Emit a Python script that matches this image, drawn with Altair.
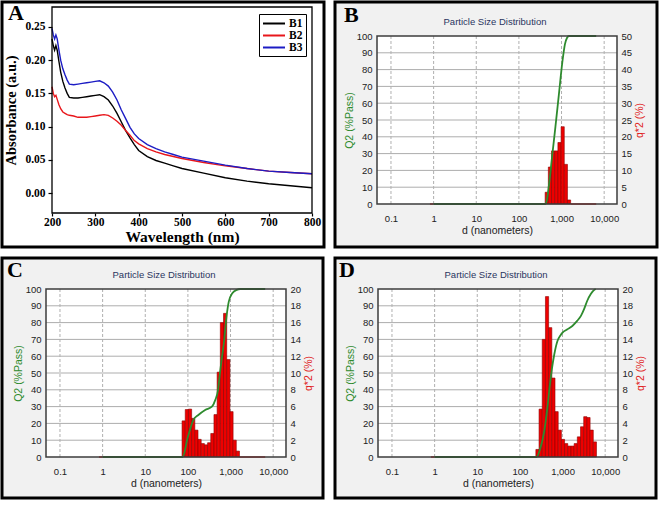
import altair as alt
import pandas as pd

# ---------------- Panel A: UV-vis absorbance ----------------
wavelength = [200, 203, 206, 209, 212, 216, 220, 225, 230, 235, 240, 250, 260, 270, 280, 290,
              300, 310, 320, 330, 340, 350, 360, 370, 380, 390, 400, 420, 440, 460, 480, 500,
              550, 600, 650, 700, 750, 800]
abs_b1 = [0.232, 0.222, 0.215, 0.222, 0.215, 0.198, 0.182, 0.168, 0.158, 0.150, 0.144, 0.143,
          0.143, 0.144, 0.145, 0.146, 0.147, 0.148, 0.145, 0.140, 0.131, 0.120, 0.107, 0.094,
          0.083, 0.073, 0.064, 0.055, 0.049, 0.045, 0.041, 0.037, 0.030, 0.023, 0.018, 0.014,
          0.011, 0.008]
abs_b2 = [0.160, 0.150, 0.145, 0.147, 0.141, 0.133, 0.127, 0.122, 0.120, 0.118, 0.117, 0.116,
          0.114, 0.114, 0.114, 0.115, 0.116, 0.117, 0.118, 0.117, 0.113, 0.108, 0.102, 0.094,
          0.087, 0.079, 0.074, 0.067, 0.062, 0.058, 0.055, 0.052, 0.046, 0.041, 0.037, 0.033,
          0.031, 0.029]
abs_b3 = [0.248, 0.238, 0.232, 0.238, 0.232, 0.215, 0.200, 0.187, 0.178, 0.170, 0.164, 0.163,
          0.164, 0.165, 0.166, 0.167, 0.168, 0.169, 0.166, 0.161, 0.152, 0.140, 0.125, 0.112,
          0.099, 0.089, 0.082, 0.073, 0.067, 0.062, 0.058, 0.054, 0.048, 0.042, 0.037, 0.033,
          0.031, 0.029]
series_names = ["B1", "B2", "B3"]
series_colors = ["#000000", "#e8161b", "#1c1cc4"]
a_xticks = [200, 300, 400, 500, 600, 700, 800]
a_yticks = [0.0, 0.05, 0.10, 0.15, 0.20, 0.25]
a_xdom = [200, 800]
a_ydom = [-0.03, 0.28]

# ---------------- Panels B-D: particle size distribution ----------------
psd_xdom = [0.047, 20000]
psd_xticks = [0.1, 1, 10, 100, 1000, 10000]
q2_dom = [0, 100]
q2_grid = [10, 20, 30, 40, 50, 60, 70, 80, 90]
q2_ticks = [0, 10, 20, 30, 40, 50, 60, 70, 80, 90, 100]

b_edges = [413, 491, 583, 692, 822, 977, 1160, 1378, 1637]
b_q = [3.5, 11.0, 15.8, 15.8, 18.3, 23.0, 11.8, 1.2]
b_cum_d = [1, 420, 450, 500, 600, 720, 865, 1040, 1200, 1350, 1500, 6500]
b_cum_v = [0, 0, 2, 10, 28, 46, 65, 84, 95, 99, 100, 100]
b_zero_lo = [0.82, 1637]
b_zero_hi = [1.0, 6500]
b_qticks = [0, 5, 10, 15, 20, 25, 30, 35, 40, 45, 50]

c_edges = [73, 86.7, 103, 122.4, 145.4, 172.7, 205.2, 243.8, 289.6, 344, 408.7, 485.5,
           576.8, 685.2, 814, 967, 1149, 1365, 1621]
c_q = [4.3, 5.65, 5.7, 4.6, 3.2, 2.1, 1.6, 1.45, 1.7, 2.8, 5.05, 10.1, 16.0, 17.1, 11.6,
       5.4, 2.0, 0.7]
c_cum_d = [1, 75, 100, 134, 176, 254, 366, 440, 510, 565, 650, 700, 800, 910, 1100, 1400,
           1700, 6500]
c_cum_v = [0, 0, 12, 22, 25, 28, 30, 34, 40, 50, 62, 68, 83, 92.5, 97.5, 99.5, 100, 100]
c_zero_lo = [0.82, 1621]
c_zero_hi = [1.0, 6500]

d_edges = [237, 281.6, 334.5, 397.4, 472.1, 560.8, 666.2, 791.5, 940.3, 1117, 1327, 1577,
           1873, 2225, 2643, 3140, 3731, 4432, 5265, 6255]
d_q = [0.9, 5.7, 14.0, 19.1, 15.4, 9.4, 5.4, 3.2, 2.1, 1.6, 1.3, 1.3, 1.6, 2.4, 3.6, 4.8,
       4.7, 3.2, 1.8]
d_cum_d = [1, 245, 300, 370, 445, 500, 560, 640, 760, 900, 1000, 1300, 1700, 2200, 2700,
           3200, 3800, 4600, 5300, 6000]
d_cum_v = [0, 0, 5, 15, 30, 42, 52, 61, 69, 72.5, 74, 76, 78, 81, 84, 88, 93, 97, 99, 100]
d_zero_lo = [0.82]
d_zero_hi = [1.0]
cd_qticks = [0, 2, 4, 6, 8, 10, 12, 14, 16, 18, 20]

SERIF = "Liberation Serif"
SANS = "Liberation Sans"

one = pd.DataFrame({"k": [0]})


def frame(w, h, fill):
    return alt.Chart(one).mark_rect(fill=fill, stroke="black", strokeWidth=3).encode(
        x=alt.value(0), x2=alt.value(w), y=alt.value(0), y2=alt.value(h))


def label_text(t, x, y, **kw):
    return alt.Chart(one).mark_text(text=t, **kw).encode(x=alt.value(x), y=alt.value(y))


def letter(t, x, y):
    return label_text(t, x, y, font=SERIF, fontWeight="bold", fontSize=22, align="left",
                      baseline="alphabetic", color="black")


# ---------- Panel A ----------
FW_A, FH_A = 322, 245
PX_A, PY_A = [50, 310], [5, 211]
n = len(wavelength)
dfA = pd.DataFrame({
    "wl": wavelength * 3,
    "abs": abs_b1 + abs_b2 + abs_b3,
    "s": [series_names[0]] * n + [series_names[1]] * n + [series_names[2]] * n,
})
xsA = alt.Scale(domain=a_xdom, range=PX_A, nice=False, zero=False)
ysA = alt.Scale(domain=a_ydom, range=[PY_A[1], PY_A[0]], nice=False, zero=False)
xaxA = alt.Axis(values=a_xticks, title="Wavelength (nm)", grid=False, domain=False,
                offset=-(FH_A - PY_A[1]), tickColor="black", tickSize=3, tickWidth=1.2,
                labelFont=SERIF, labelFontWeight="bold", labelFontSize=11.5,
                labelColor="black", labelPadding=0, labelFlush=False,
                titleFont=SERIF, titleFontWeight="bold", titleFontSize=15.5,
                titleColor="black", titlePadding=2, zindex=1)
yaxA = alt.Axis(values=a_yticks, format=".2f", title="Absorbance (a.u.)", grid=False,
                domain=False, offset=-PX_A[0], tickColor="black", tickSize=4,
                tickWidth=1.2, labelFont=SERIF, labelFontWeight="bold",
                labelFontSize=11.5, labelColor="black", labelPadding=3,
                titleFont=SERIF, titleFontWeight="bold", titleFontSize=14.5,
                titleColor="black", titlePadding=6, zindex=1)
linesA = alt.Chart(dfA).mark_line(strokeWidth=1.4).encode(
    x=alt.X("wl:Q", scale=xsA, axis=xaxA),
    y=alt.Y("abs:Q", scale=ysA, axis=yaxA),
    color=alt.Color("s:N", scale=alt.Scale(domain=series_names, range=series_colors),
                    legend=alt.Legend(title=None, orient="none", legendX=257, legendY=12,
                                      strokeColor="black", padding=3, fillColor="white",
                                      symbolType="M-1,0H3", symbolStrokeWidth=2,
                                      symbolSize=121, labelFont=SERIF,
                                      labelFontWeight="bold", labelFontSize=11.5,
                                      labelColor="black", rowPadding=0, labelOffset=14)),
)
borderA = alt.Chart(one).mark_rect(fill="transparent", stroke="black", strokeWidth=1.3).encode(
    x=alt.X(datum=a_xdom[0], type="quantitative", scale=xsA, axis=xaxA),
    x2=alt.X2(datum=a_xdom[1]),
    y=alt.Y(datum=a_ydom[0], type="quantitative", scale=ysA, axis=yaxA),
    y2=alt.Y2(datum=a_ydom[1]),
)
panelA = alt.layer(
    frame(FW_A, FH_A, "white"),
    linesA,
    borderA,
    letter("A", 6, 18),
).properties(width=FW_A, height=FH_A)


# ---------- PSD panels ----------
def psd_panel(tag, edges, q, cum_d, cum_v, zlo, zhi, qticks, FW, FH, PX, PY, lx, ly, ty):
    xs = alt.Scale(type="log", domain=psd_xdom, range=PX, nice=False)
    q2s = alt.Scale(domain=q2_dom, range=[PY[1], PY[0]], nice=False, zero=True)
    qs = alt.Scale(domain=[qticks[0], qticks[-1]], range=[PY[1], PY[0]], nice=False,
                   zero=True)
    xaxis = alt.Axis(values=psd_xticks, format=",", title="d (nanometers)", grid=False,
                     domain=False, ticks=False, offset=-(FH - PY[1]), labelPadding=9,
                     labelFont=SANS, labelFontSize=9.5, labelColor="#222222",
                     labelFlush=False, labelOverlap=False, titleFont=SANS,
                     titleFontSize=10.5, titleFontWeight="normal", titleColor="#222222",
                     titlePadding=3, zindex=1)
    left_axis = alt.Axis(values=q2_ticks, title="Q2 (%Pass)", orient="left", grid=False,
                         domain=False, ticks=False, offset=-PX[0], labelPadding=5,
                         labelFont=SANS, labelFontSize=9.5, labelColor="#222222",
                         titleFont=SANS, titleFontSize=10.5, titleFontWeight="normal",
                         titleColor="#2e8b2e", titlePadding=2, titleAngle=270, zindex=1)
    right_axis = alt.Axis(values=qticks, title="q*2 (%)", orient="right", grid=False,
                          domain=False, ticks=False, offset=-(FW - PX[1]), labelPadding=4,
                          labelFont=SANS, labelFontSize=9.5, labelColor="#222222",
                          titleFont=SANS, titleFontSize=10.5, titleFontWeight="normal",
                          titleColor="#e02020", titlePadding=3, titleAngle=270,
                          titleBaseline="top", zindex=1)

    bars = pd.DataFrame({"lo": edges[:-1], "hi": edges[1:], "q": q})
    cum = pd.DataFrame({"d": cum_d, "v": cum_v})
    zeros = pd.DataFrame({"lo": zlo, "hi": zhi, "z": [0] * len(zlo)})
    hg = pd.DataFrame({"v": q2_grid})
    vg = pd.DataFrame({"d": psd_xticks})

    def xd(v):
        return alt.X(datum=v, type="quantitative", scale=xs, axis=xaxis)

    def yd(v):
        return alt.Y(datum=v, type="quantitative", scale=q2s, axis=None)

    plotbg = alt.Chart(one).mark_rect(fill="white").encode(
        x=xd(psd_xdom[0]), x2=alt.X2(datum=psd_xdom[1]),
        y=yd(q2_dom[0]), y2=alt.Y2(datum=q2_dom[1]))
    hgrid = alt.Chart(hg).mark_rule(color="#adadad", strokeWidth=1).encode(
        x=xd(psd_xdom[0]), x2=alt.X2(datum=psd_xdom[1]),
        y=alt.Y("v:Q", scale=q2s, axis=None))
    vgrid = alt.Chart(vg).mark_rule(color="#b0b0b0", strokeWidth=1, strokeDash=[3, 2]).encode(
        x=alt.X("d:Q", scale=xs, axis=xaxis),
        y=yd(q2_dom[0]), y2=alt.Y2(datum=q2_dom[1]))
    zero = alt.Chart(zeros).mark_rule(color="#e02020", strokeWidth=1.5).encode(
        x=alt.X("lo:Q", scale=xs, axis=xaxis), x2="hi:Q",
        y=alt.Y("z:Q", scale=qs, axis=None))
    bar = alt.Chart(bars).mark_rect(color="#ee0000", stroke="#8b0000", strokeWidth=0.6).encode(
        x=alt.X("lo:Q", scale=xs, axis=xaxis), x2="hi:Q",
        y=alt.Y("q:Q", scale=qs, axis=right_axis), y2=alt.Y2(datum=0))
    line = alt.Chart(cum).mark_line(color="#2e8b2e", strokeWidth=1.8,
                                    interpolate="monotone").encode(
        x=alt.X("d:Q", scale=xs, axis=xaxis),
        y=alt.Y("v:Q", scale=q2s, axis=left_axis))
    border = alt.Chart(one).mark_rect(fill="transparent", stroke="#3c3c3c",
                                      strokeWidth=1.5).encode(
        x=xd(psd_xdom[0]), x2=alt.X2(datum=psd_xdom[1]),
        y=yd(q2_dom[0]), y2=alt.Y2(datum=q2_dom[1]))
    title = label_text("Particle Size Distribution", (PX[0] + PX[1]) / 2 - 2, ty,
                       font=SANS, fontSize=9.5, color="#2a3560", align="center",
                       baseline="middle")

    return alt.layer(
        frame(FW, FH, "#f1f1f1"),
        plotbg, hgrid, vgrid, zero, bar, line, border,
        title, letter(tag, lx, ly),
    ).resolve_scale(y="independent").properties(width=FW, height=FH)


panelB = psd_panel("B", b_edges, b_q, b_cum_d, b_cum_v, b_zero_lo, b_zero_hi, b_qticks,
                   322, 245, [42, 282], [34, 202], 9, 20, 20)
panelC = psd_panel("C", c_edges, c_q, c_cum_d, c_cum_v, c_zero_lo, c_zero_hi, cd_qticks,
                   321, 240, [44, 284], [31, 199], 5, 19, 17)
panelD = psd_panel("D", d_edges, d_q, d_cum_d, d_cum_v, d_zero_lo, d_zero_hi, cd_qticks,
                   321, 240, [43, 283], [31, 199], 4, 19, 17)

chart = alt.vconcat(
    alt.hconcat(panelA, panelB, spacing=7),
    alt.hconcat(panelC, panelD, spacing=8),
    spacing=7,
).properties(
    padding={"left": 0, "top": 0, "right": 0, "bottom": 0}, background="white"
).configure_view(stroke=None)

chart.save("out.html", embed_options={"renderer": "svg", "actions": False})
